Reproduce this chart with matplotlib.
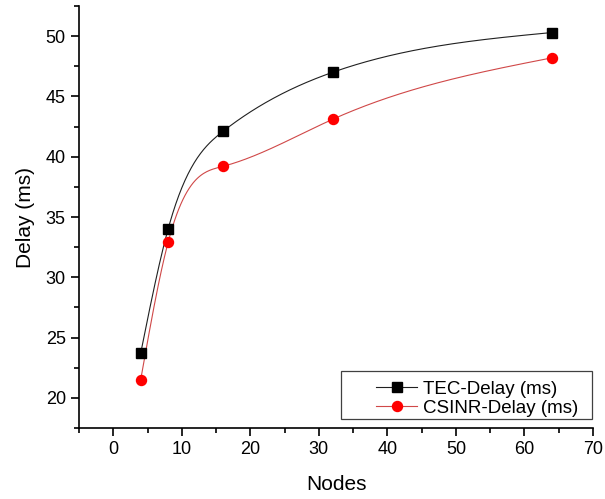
"""
Delay vs nodes, spline-connected lines.
"""

import matplotlib
matplotlib.use("Agg")
import matplotlib.pyplot as plt
from matplotlib.patches import Rectangle
from matplotlib.ticker import MultipleLocator
import numpy as np

nodes = [4, 8, 16, 32, 64]
tec_delay = [23.7, 34.0, 42.1, 47.0, 50.3]
csinr_delay = [21.5, 32.9, 39.2, 43.1, 48.2]


def natural_spline(x, y, n=400):
    """Natural cubic spline through (x, y), sampled on n points."""
    x = np.asarray(x, float)
    y = np.asarray(y, float)
    k = len(x)
    h = np.diff(x)
    a = np.zeros((k, k))
    b = np.zeros(k)
    a[0, 0] = a[-1, -1] = 1.0
    for i in range(1, k - 1):
        a[i, i - 1] = h[i - 1]
        a[i, i] = 2 * (h[i - 1] + h[i])
        a[i, i + 1] = h[i]
        b[i] = 6 * ((y[i + 1] - y[i]) / h[i] - (y[i] - y[i - 1]) / h[i - 1])
    m = np.linalg.solve(a, b)
    xs = np.linspace(x[0], x[-1], n)
    idx = np.clip(np.searchsorted(x, xs) - 1, 0, k - 2)
    x0, x1 = x[idx], x[idx + 1]
    hh = x1 - x0
    t0, t1 = x1 - xs, xs - x0
    ys = (m[idx] * t0 ** 3 / (6 * hh) + m[idx + 1] * t1 ** 3 / (6 * hh)
          + (y[idx] / hh - m[idx] * hh / 6) * t0
          + (y[idx + 1] / hh - m[idx + 1] * hh / 6) * t1)
    return xs, ys


plt.rcParams["font.family"] = ["Liberation Sans", "DejaVu Sans"]

W, H = 605, 499
fig = plt.figure(figsize=(W / 100, H / 100), dpi=100)
ax = fig.add_axes([79 / W, 71 / H, 514 / W, 422 / H])

black = "#202020"
red_line = "#d04848"

# Spline curves with the data points on top.
xs, ys = natural_spline(nodes, tec_delay)
ax.plot(xs, ys, color=black, lw=0.8)
xs, ys = natural_spline(nodes, csinr_delay)
ax.plot(xs, ys, color=red_line, lw=0.8)
ax.plot(nodes, tec_delay, "s", color="black", ms=6.5, ls="none")
ax.plot(nodes, csinr_delay, "o", color="red", ms=7.2, ls="none")

# Legend handles: line + marker, boxed like Origin does it.
h1, = ax.plot([], [], "-s", color=black, mfc="black", mec="black",
              lw=0.8, ms=6.5, label="TEC-Delay (ms)")
h2, = ax.plot([], [], "-o", color=red_line, mfc="red", mec="red",
              lw=0.8, ms=7.2, label="CSINR-Delay (ms)")
ax.legend(handles=[h1, h2], loc="lower right", fontsize=13.5, frameon=False,
          bbox_to_anchor=(578 / W, (H - 417) / H), bbox_transform=fig.transFigure,
          borderpad=0, borderaxespad=0, handlelength=2.2, labelspacing=0.1,
          handletextpad=0.3)
fig.patches.append(Rectangle((341 / W, (H - 419) / H), 251 / W, 48 / H,
                             transform=fig.transFigure, fill=False,
                             edgecolor="#404040", lw=0.9))

ax.set_xlim(-5, 70)
ax.set_ylim(17.5, 52.5)
ax.xaxis.set_major_locator(MultipleLocator(10))
ax.xaxis.set_minor_locator(MultipleLocator(5))
ax.yaxis.set_major_locator(MultipleLocator(5))
ax.yaxis.set_minor_locator(MultipleLocator(2.5))

for side in ["top", "right"]:
    ax.spines[side].set_visible(False)
for side in ["left", "bottom"]:
    ax.spines[side].set_linewidth(1.2)
ax.tick_params(which="major", direction="out", length=6, width=1.2, labelsize=13)
ax.tick_params(which="minor", direction="out", length=3.5, width=1.2)

ax.set_xlabel("Nodes", fontsize=15, labelpad=12)
ax.set_ylabel("Delay (ms)", fontsize=15, labelpad=8)

fig.savefig("out.png", dpi=100)
